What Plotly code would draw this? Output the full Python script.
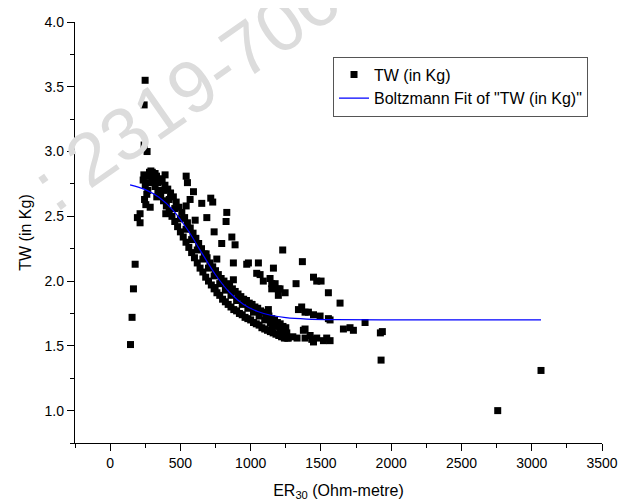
import plotly.graph_objects as go

# measured points: TW (in Kg) vs ER30 (Ohm-metre)
spike_x = [145, 156, 166, 178, 194, 213, 213, 242, 263, 242, 249]
spike_y = [1.51, 1.72, 1.94, 2.13, 2.49, 2.52, 2.45, 3.05, 3.00, 3.36, 3.55]

left_x = [235, 240, 250, 254, 261, 268, 265, 280, 300, 320, 245, 285, 332, 396, 391, 275, 310]
left_y = [2.78, 2.82, 2.74, 2.59, 2.67, 2.70, 2.81, 2.84, 2.84, 2.83, 2.63, 2.57, 2.65, 2.52, 2.82, 2.76, 2.79]

band_up_x = [290, 310, 330, 350, 370, 390, 410, 430, 450, 470, 490, 510, 530, 550, 570, 590, 610, 630,
             650, 670, 690, 710, 730, 750, 770, 790, 810, 830, 850, 870, 890, 910, 930, 950, 970, 990,
             1010, 1030, 1050, 1070, 1090, 1110, 1130, 1150, 1170, 1190, 1210, 1230, 1250]
band_up_y = [2.85, 2.83, 2.81, 2.79, 2.77, 2.74, 2.71, 2.68, 2.65, 2.61, 2.57, 2.53, 2.49, 2.45, 2.41, 2.37, 2.33, 2.29,
             2.25, 2.21, 2.18, 2.14, 2.11, 2.08, 2.05, 2.02, 2.00, 1.98, 1.96, 1.94, 1.92, 1.90, 1.88, 1.86, 1.85, 1.83,
             1.82, 1.80, 1.79, 1.77, 1.76, 1.74, 1.73, 1.71, 1.70, 1.68, 1.67, 1.65, 1.64]

band_mid_x = [300, 340, 380, 420, 460, 500, 540, 580, 620, 660, 700, 740, 780, 820, 860, 900, 940, 980,
              1020, 1060, 1100, 1140, 1180, 1220]
band_mid_y = [2.81, 2.76, 2.70, 2.63, 2.56, 2.48, 2.40, 2.32, 2.24, 2.17, 2.10, 2.04, 1.98, 1.93, 1.89, 1.85, 1.82, 1.79,
              1.76, 1.73, 1.70, 1.68, 1.65, 1.62]

band_lo_x = [300, 320, 340, 360, 380, 400, 420, 440, 460, 480, 500, 520, 540, 560, 580, 600, 620, 640,
             660, 680, 700, 720, 740, 760, 780, 800, 820, 840, 860, 880, 900, 920, 940, 960, 980, 1000,
             1020, 1040, 1060, 1080, 1100, 1120, 1140, 1160, 1180, 1200, 1220, 1240, 1260]
band_lo_y = [2.77, 2.73, 2.70, 2.66, 2.62, 2.58, 2.54, 2.50, 2.46, 2.42, 2.38, 2.34, 2.30, 2.26, 2.22, 2.18, 2.14, 2.10,
             2.07, 2.03, 2.00, 1.97, 1.94, 1.91, 1.89, 1.86, 1.84, 1.82, 1.80, 1.78, 1.77, 1.75, 1.74, 1.72, 1.71, 1.70,
             1.68, 1.67, 1.66, 1.64, 1.63, 1.62, 1.61, 1.60, 1.59, 1.58, 1.57, 1.56, 1.56]

upper_x = [541, 550, 593, 569, 652, 716, 730, 541, 605, 688, 830, 825, 740, 866, 889, 794, 683, 759,
           1228, 877, 972, 984, 1055, 1162, 1043, 1368, 877, 747]
upper_y = [2.81, 2.76, 2.69, 2.63, 2.60, 2.64, 2.61, 2.58, 2.47, 2.49, 2.53, 2.46, 2.38, 2.34, 2.28, 2.29, 2.21, 2.17,
           2.24, 2.14, 2.13, 2.14, 2.14, 2.10, 2.06, 2.15, 2.01, 1.95]

mid_x = [1067, 1090, 1138, 1150, 1174, 1197, 1209, 1150, 1197, 1245, 1323, 1447, 1470, 1501, 1553, 1636, 1814]
mid_y = [2.05, 2.00, 2.02, 1.98, 1.98, 1.94, 1.94, 1.94, 1.89, 1.91, 1.98, 2.03, 2.00, 2.00, 1.91, 1.83, 1.68]

lower_x = [1126, 1363, 1387, 1340, 1411, 1447, 1494, 1553, 1565, 1387, 1375, 1387, 1423, 1447, 1470, 1518,
           1541, 1565, 1257, 1268, 1209, 1245, 1150, 1660, 1707, 1731, 1923, 1937, 1928, 2758, 3066, 1435, 1300, 1330]
lower_y = [1.78, 1.80, 1.76, 1.78, 1.76, 1.74, 1.73, 1.71, 1.70, 1.63, 1.62, 1.56, 1.58, 1.53, 1.56, 1.54,
           1.56, 1.54, 1.60, 1.56, 1.62, 1.59, 1.64, 1.63, 1.64, 1.62, 1.60, 1.61, 1.39, 1.00, 1.31, 1.55, 1.57, 1.56]

tw_x = spike_x + left_x + band_up_x + band_mid_x + band_lo_x + upper_x + mid_x + lower_x
tw_y = spike_y + left_y + band_up_y + band_mid_y + band_lo_y + upper_y + mid_y + lower_y

# Boltzmann fit curve
fit_x = [142, 250, 350, 450, 550, 650, 750, 850, 950, 1050, 1150, 1250, 1400, 1600, 2000, 2500, 3066]
fit_y = [2.743, 2.706, 2.645, 2.544, 2.398, 2.222, 2.049, 1.912, 1.820, 1.765, 1.734, 1.718, 1.707, 1.702,
         1.700, 1.700, 1.700]

fig = go.Figure()
fig.add_trace(go.Scatter(
    x=tw_x, y=tw_y, mode='markers', name='TW (in Kg)',
    marker=dict(symbol='square', size=7, color='black', line=dict(width=0))))
fig.add_trace(go.Scatter(
    x=fit_x, y=fit_y, mode='lines', name='Boltzmann Fit of "TW (in Kg)"',
    line=dict(color='#0000ff', width=1.2, shape='spline')))

# faint journal watermark behind the chart
fig.add_annotation(
    text=': 2319-7064', xref='paper', yref='paper', x=0.242, y=0.863,
    xanchor='center', yanchor='middle',
    showarrow=False, textangle=-35, font=dict(size=74, color='#dcdcdc', family='Arial'))

axis_common = dict(
    showline=True, linecolor='black', linewidth=1.3, mirror=False,
    ticks='outside', ticklen=7, tickwidth=1, tickcolor='black',
    showgrid=False, zeroline=False, automargin=False,
    tickfont=dict(size=14, color='black'),
)

fig.update_xaxes(
    range=[-250, 3500], tickmode='array', tickvals=[0, 500, 1000, 1500, 2000, 2500, 3000, 3500],
    minor=dict(ticks='outside', ticklen=4, tickwidth=1, tickcolor='black', dtick=250, tick0=-250),
    title=dict(text='ER<sub>30</sub> (Ohm-metre)', font=dict(size=16, color='black'), standoff=14),
    **axis_common)
fig.update_yaxes(
    range=[0.75, 4.0], tickmode='array', tickvals=[1.0, 1.5, 2.0, 2.5, 3.0, 3.5, 4.0], tickformat='.1f',
    minor=dict(ticks='outside', ticklen=4, tickwidth=1, tickcolor='black', dtick=0.25, tick0=0.75),
    title=dict(text='TW (in Kg)', font=dict(size=16, color='black'), standoff=8),
    **axis_common)

# page body has an 8px margin, so the figure is sized 8px smaller each way
fig.update_layout(
    width=634, height=494,
    margin=dict(l=67, r=40, t=14, b=59),
    paper_bgcolor='white', plot_bgcolor='rgba(0,0,0,0)',
    font=dict(family='Arial, Liberation Sans, sans-serif', color='black'),
    showlegend=True,
    legend=dict(
        x=0.4896, y=0.918, xanchor='left', yanchor='top',
        bordercolor='#555555', borderwidth=1, bgcolor='white',
        font=dict(size=16, color='black'), tracegroupgap=0,
        itemwidth=30),
)

fig.write_html("out.html")
